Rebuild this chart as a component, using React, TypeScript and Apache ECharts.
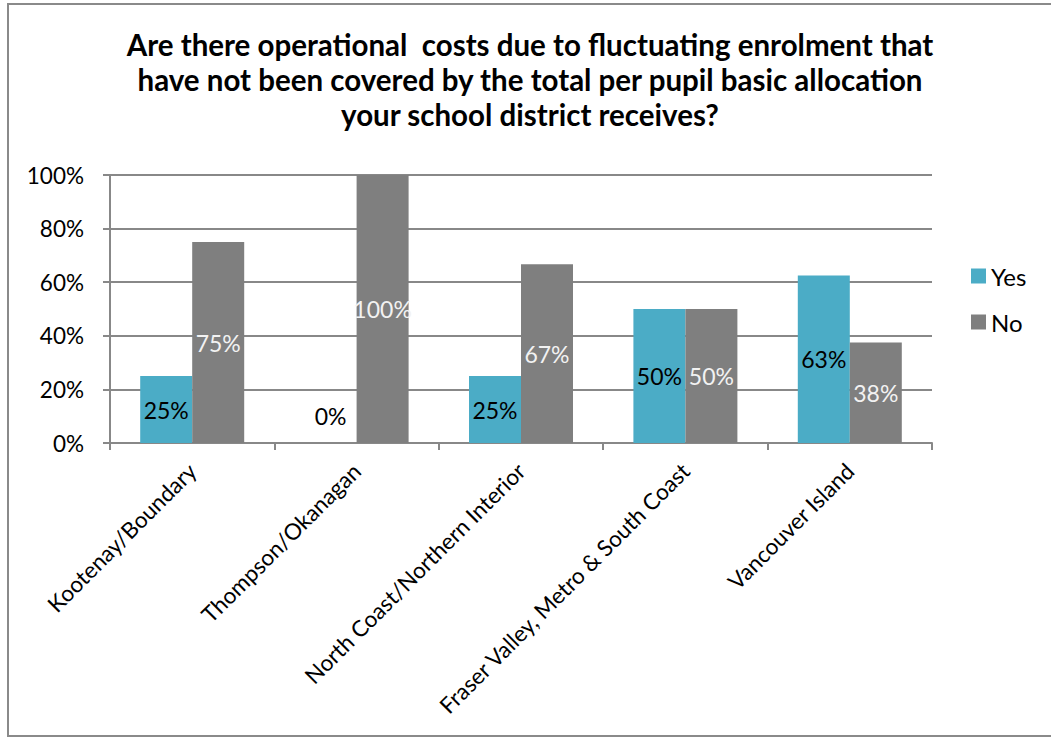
import React, { useEffect, useRef } from "react";
import * as echarts from "echarts";

const TITLE_LINES = [
  "Are there operational  costs due to fluctuating enrolment that",
  "have not been covered by the total per pupil basic allocation",
  "your school district receives?",
];
const categories = [
  "Kootenay/Boundary",
  "Thompson/Okanagan",
  "North Coast/Northern Interior",
  "Fraser Valley, Metro & South Coast",
  "Vancouver Island",
];
const yesValues = [25, 0, 25, 50, 62.5];
const noValues = [75, 100, 66.7, 50, 37.5];
const yTicks = [0, 20, 40, 60, 80, 100];

const FONT = "Lato, 'Open Sans', 'Noto Sans', sans-serif";
const GRID_COLOR = "#888888";

export default function App() {
  const ref = useRef<HTMLDivElement>(null);
  useEffect(() => {
    if (!ref.current) return;
    const chart = echarts.init(ref.current, null, { renderer: "svg" });
    const fmt = (p: any) => {
      const v = Number(p.value);
      return Math.round(v) + "%";
    };
    chart.setOption({
      animation: false,
      backgroundColor: "#ffffff",
      textStyle: { fontFamily: FONT },
      graphic: [
        {
          type: "rect",
          shape: { x: 8, y: 4, width: 1100, height: 732 },
          style: { fill: "none", stroke: "#8a8a8a", lineWidth: 2 },
          silent: true,
        },
        {
          type: "text",
          x: 530,
          y: 27,
          style: {
            text: TITLE_LINES.join("\n"),
            fontFamily: FONT,
            fontWeight: "bold",
            fontSize: 29.5,
            lineHeight: 35,
            fill: "#000000",
            align: "center",
            verticalAlign: "top",
          },
        },
      ],
      legend: {
        orient: "vertical",
        left: 966,
        top: 259,
        itemWidth: 15,
        itemHeight: 15,
        itemGap: 22,
        icon: "rect",
        textStyle: { fontSize: 24, color: "#000", fontFamily: FONT },
        data: ["Yes", "No"],
      },
      grid: { left: 110, right: 119, top: 175, bottom: 295, containLabel: false },
      xAxis: {
        type: "category",
        data: categories,
        axisLine: { show: true, lineStyle: { color: GRID_COLOR, width: 2 } },
        axisTick: { show: true, length: 7, lineStyle: { color: GRID_COLOR, width: 2 } },
        axisLabel: {
          rotate: 45,
          interval: 0,
          margin: 24,
          fontSize: 22.5,
          color: "#000",
          fontFamily: FONT,
        },
      },
      yAxis: {
        type: "value",
        min: yTicks[0],
        max: yTicks[yTicks.length - 1],
        interval: 20,
        axisLine: { show: true, lineStyle: { color: GRID_COLOR, width: 2 } },
        axisTick: { show: true, length: 7, lineStyle: { color: GRID_COLOR, width: 2 } },
        splitLine: { show: true, lineStyle: { color: GRID_COLOR, width: 2 } },
        axisLabel: {
          formatter: "{value}%",
          margin: 26,
          fontSize: 22.5,
          color: "#000",
          fontFamily: FONT,
        },
      },
      series: [
        {
          name: "Yes",
          type: "bar",
          barWidth: 52,
          barGap: "0%",
          itemStyle: { color: "#4BACC6" },
          label: {
            show: true,
            position: "inside",
            formatter: fmt,
            fontSize: 23,
            color: "#000000",
            fontFamily: FONT,
          },
          data: yesValues.map((v) =>
            v === 0 ? { value: v, label: { position: "top", distance: 16 } } : v
          ),
        },
        {
          name: "No",
          type: "bar",
          barWidth: 52,
          barGap: "0%",
          itemStyle: { color: "#7F7F7F" },
          label: {
            show: true,
            position: "inside",
            formatter: fmt,
            fontSize: 23,
            color: "#F2F2F2",
            fontFamily: FONT,
          },
          data: noValues,
        },
      ],
    });
    return () => chart.dispose();
  }, []);
  return (
    <div
      ref={ref}
      style={{ position: "fixed", left: 0, top: 0, width: 1051, height: 738 }}
    />
  );
}
